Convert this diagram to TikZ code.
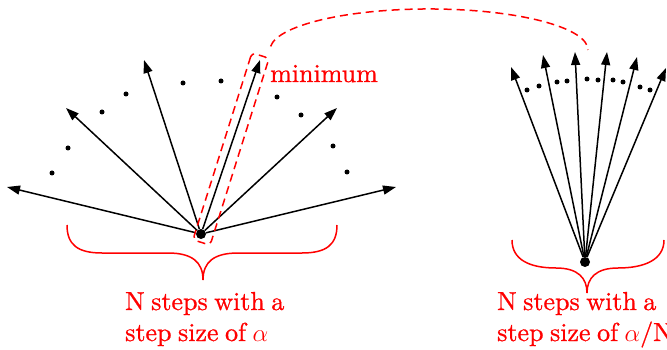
\documentclass[tikz,border=0pt]{standalone}
\usepackage{fontspec}
\newfontfamily\lmfont{lmroman10-regular.otf}[FakeBold=0.8, WordSpace=0.75]
\usetikzlibrary{arrows.meta}
\begin{document}
\begin{tikzpicture}[x=1pt,y=-1pt,
  vec/.style={-{Triangle[length=13pt,width=9pt]}, line width=1.5pt},
  pt/.style={circle, fill, inner sep=0pt, minimum size=5pt},
  hub/.style={circle, fill, inner sep=0pt, minimum size=10pt},
  lbl/.style={text=red, font=\lmfont\fontsize{26}{31}\selectfont, inner sep=0pt},
  bracestyle/.style={red, line width=1.5pt},
  reddash/.style={red, dash pattern=on 8pt off 5pt, line width=1.5pt}]
\useasboundingbox (0,0) rectangle (667,350);
\clip (0,0) rectangle (667,350);

% ---- left fan ----
\node[hub] (c1) at (201,234) {};
\coordinate (a1) at (7,187);
\coordinate (a2) at (66,108);
\coordinate (a3) at (144,60);
\coordinate (a4) at (260,60);
\coordinate (a5) at (337,108);
\coordinate (a6) at (396,187);
\foreach \t in {a1,a2,a3,a4,a5,a6} \draw[vec] (c1) -- (\t);
\foreach \p [count=\i] in {(52,173),(68,148),(102,112),(126,94),(183,83),(221,81),(277,97),(301,115),(333,146),(347,172)}
  \node[pt] (ld\i) at \p {};

% minimum box
\node[reddash, draw, rounded corners=4pt, minimum width=196pt, minimum height=18pt,
      rotate=72.5, inner sep=0pt] (box) at (231,149) {};
\node[lbl, anchor=base west] (minlbl) at (270,82) {minimum};

% ---- right fan ----
\node[hub] (c2) at (585,262) {};
\coordinate (b1) at (511,67);
\coordinate (b2) at (543,55);
\coordinate (b3) at (575,52);
\coordinate (b4) at (607,52);
\coordinate (b5) at (637,57);
\coordinate (b6) at (666,68);
\foreach \t in {b1,b2,b3,b4,b5,b6} \draw[vec] (c2) -- (\t);
\foreach \p [count=\i] in {(527,90),(539,86),(557,82),(567,81),(587,79),(598,80),(613,80),(623,82),(640,87),(650,90)}
  \node[pt] (rd\i) at \p {};

% dashed arc from the minimum box to the right fan
\coordinate (arcstart) at (270.6,46.4);
\coordinate (arcend) at (588,50);
\draw[reddash] (arcstart) arc[start angle=-175, end angle=0, x radius=159, y radius=41];

% ---- braces ----
\draw[bracestyle] (67,225) .. controls (67,245) and (78,253) .. (102,253) -- (168,253)
  .. controls (192,253) and (203,262) .. (203,280)
  .. controls (203,262) and (214,253) .. (238,253) -- (302,253)
  .. controls (326,253) and (337,245) .. (337,225);
\draw[bracestyle] (512,240) .. controls (512,260) and (530,268) .. (556,268)
  .. controls (578,268) and (587,278) .. (587,293)
  .. controls (587,278) and (596,268) .. (618,268)
  .. controls (644,268) and (664,260) .. (664,240);

% ---- labels ----
\node[lbl, anchor=base west] (l1) at (125,310) {N steps with a};
\node[lbl, anchor=base west] (l2) at (125,341) {step size of $\alpha$};
\node[lbl, anchor=base west] (r1) at (497,310) {N steps with a};
\node[lbl, anchor=base west] (r2) at (497,341) {step size of $\alpha$/N};
\end{tikzpicture}
\end{document}
